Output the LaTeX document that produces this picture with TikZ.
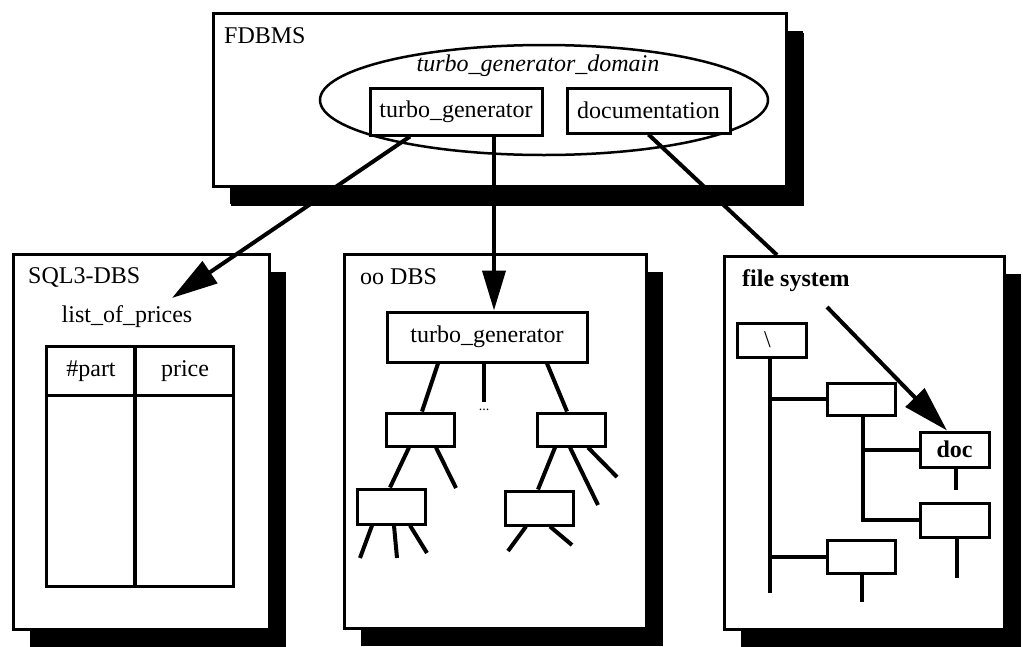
\documentclass[tikz,border=0pt]{standalone}
\usepackage{fontspec}
\setmainfont{Liberation Serif}
\usetikzlibrary{arrows.meta,shadows,shapes.geometric}

\begin{document}
\begin{tikzpicture}[x=1pt,y=-1pt,
  every node/.style={font=\fontsize{24}{28}\selectfont},
  panel/.style={draw, line width=3pt, fill=white, anchor=north west,
    inner sep=0pt, drop shadow={shadow xshift=16pt, shadow yshift=-17pt,
    fill=black, opacity=1}},
  box/.style={draw, line width=3pt, fill=white, inner sep=0pt},
  title/.style={anchor=west, inner sep=0pt},
  conn/.style={line width=4pt},
  bigtip/.style={-{Triangle[length=46pt,width=26pt]}},
  branch/.style={line width=4pt}
]
\useasboundingbox (0,0) rectangle (1023,646);

% ---------- federated layer ----------
\node[panel, minimum width=573pt, minimum height=173pt,
  drop shadow={shadow xshift=17pt, shadow yshift=-19pt, fill=black, opacity=1}] (fdbms) at (212,12) {};
\node[title] (fdbmslbl) at (224,36) {FDBMS};
\node[draw, ellipse, line width=2.5pt, minimum width=448pt, minimum height=110pt] (dom) at (544,100) {};
\node[inner sep=0pt] (domlbl) at (538,66) {\itshape turbo\_generator\_domain};
\node[box, minimum width=172pt, minimum height=47pt] (tg) at (456,111.5) {turbo\_generator};
\node[box, minimum width=163pt, minimum height=45pt] (docu) at (648.5,110.5) {documentation};

% ---------- SQL3 database ----------
\node[panel, minimum width=256pt, minimum height=375pt] (sql) at (12,253) {};
\node[title] (sqllbl) at (28,277) {SQL3-DBS};
\node[inner sep=0pt] (lop) at (127,317) {list\_of\_prices};
\node[box, anchor=north west, minimum width=187pt, minimum height=240pt] (tab) at (45,345) {};
\draw[line width=3pt] (tab.west |- 0,395) -- (tab.east |- 0,395);
\draw[line width=3.5pt] (135,0 |- tab.north) -- (135,0 |- tab.south);
\node[inner sep=0pt] (colpart) at (91,371) {\#part};
\node[inner sep=0pt] (colprice) at (185,371) {price};
\coordinate (sqltip) at (172,298);

% ---------- object-oriented database ----------
\node[panel, minimum width=302pt, minimum height=374pt] (oo) at (343,253) {};
\node[title] (oolbl) at (360,277) {oo DBS};
\node[box, minimum width=200pt, minimum height=50pt] (ootg) at (487,337) {turbo\_generator};
\node[box, minimum width=68pt, minimum height=33pt] (l1) at (420,429.5) {};
\node[box, minimum width=68pt, minimum height=33pt] (r1) at (571,429.5) {};
\node[box, minimum width=68pt, minimum height=35pt] (l2) at (391,506.5) {};
\node[box, minimum width=68pt, minimum height=34pt] (r2) at (539,508) {};
\node[inner sep=0pt, font=\fontsize{14}{14}\selectfont] (dots) at (484,410) {...};

\draw[branch] (438,0 |- ootg.south) -- (422,0 |- l1.north);
\draw[branch] (484,0 |- ootg.south) -- (484,402);
\draw[branch] (547,0 |- ootg.south) -- (567,0 |- r1.north);
\draw[branch] (409,0 |- l1.south) -- (390,0 |- l2.north);
\draw[branch] (436,0 |- l1.south) -- (456,488);
\draw[branch] (372,0 |- l2.south) -- (360,558);
\draw[branch] (394,0 |- l2.south) -- (397,558);
\draw[branch] (410,0 |- l2.south) -- (427,553);
\draw[branch] (555,0 |- r1.south) -- (538,0 |- r2.north);
\draw[branch] (570,0 |- r1.south) -- (598,505);
\draw[branch] (588,0 |- r1.south) -- (617,477);
\draw[branch] (526,0 |- r2.south) -- (508,551);
\draw[branch] (550,0 |- r2.south) -- (572,545);

% ---------- file system ----------
\node[panel, minimum width=280pt, minimum height=373pt] (fs) at (723,255) {};
\node[title, font=\fontsize{24}{28}\selectfont\bfseries] (fslbl) at (742,281) {file system};
\node[box, minimum width=69pt, minimum height=34pt] (root) at (771.5,340) {\hspace*{-8pt}\textbackslash};
\node[box, minimum width=68pt, minimum height=32pt] (b1) at (861,399) {};
\node[box, minimum width=68pt, minimum height=33pt] (b2) at (861,556.5) {};
\node[box, minimum width=69pt, minimum height=35pt, font=\fontsize{24}{28}\selectfont\bfseries] (doc) at (954.5,449.5) {doc};
\node[box, minimum width=69pt, minimum height=34pt] (b4) at (954.5,520) {};
\coordinate (trunkend) at (770,593);

\draw[branch] (770,0 |- root.south) -- (trunkend);
\draw[branch] (770,0 |- b1.west) -- (b1.west);
\draw[branch] (770,0 |- b2.west) -- (b2.west);
\draw[branch] (862,0 |- b2.south) -- (862,602);
\draw[branch] (863,0 |- b1.south) -- (863,0 |- b4.west) -- (b4.west);
\draw[branch] (863,0 |- doc.west) -- (doc.west);
\draw[branch] (956,0 |- doc.south) -- (956,490);
\draw[branch] (957,0 |- b4.south) -- (957,578);
\coordinate (fsarrow) at (827,307);
\draw[conn, bigtip] (fsarrow) -- (947,0 |- doc.north);

% ---------- links from the federated layer ----------
\draw[conn, bigtip] (410,0 |- tg.south) -- (sqltip);
\draw[conn, -{Triangle[length=40pt,width=23pt]}] (494,0 |- tg.south) -- (494,0 |- ootg.north);
\draw[conn] (docu.south) -- (777,0 |- fs.north);
\end{tikzpicture}
\end{document}
